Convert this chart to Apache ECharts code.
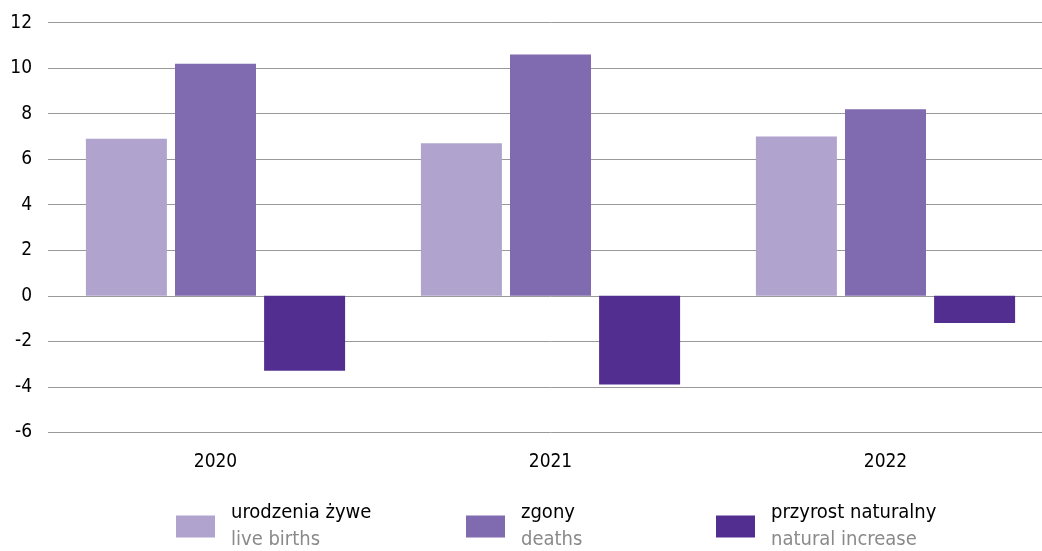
<!DOCTYPE html>
<html>
<head>
<meta charset="utf-8">
<script src="https://cdn.jsdelivr.net/npm/echarts@6/dist/echarts.min.js"></script>
<style>
html,body{margin:0;padding:0;background:#fff;overflow:hidden;width:1042px;height:551px;}
#c{width:1060px;height:551px;}
</style>
</head>
<body>
<div id="c"></div>
<script>
const categories = ['2020', '2021', '2022'];
const liveBirths = [6.9, 6.7, 7.0];
const deaths = [10.2, 10.6, 8.2];
const naturalIncrease = [-3.3, -3.9, -1.2];
const seriesNamesPl = ['urodzenia żywe', 'zgony', 'przyrost naturalny'];
const seriesNamesEn = ['live births', 'deaths', 'natural increase'];
const colors = ['#B0A4CF', '#806AB0', '#522E91'];

const FONT = '"Liberation Sans Narrow", "DejaVu Sans Condensed", "Roboto", sans-serif';
const chart = echarts.init(document.getElementById('c'));
const names = seriesNamesPl.map((p, i) => p + '|' + seriesNamesEn[i]);
const legendX = [171, 461, 711];

function mkLegend(i) {
  return {
    left: legendX[i], top: 498,
    data: [names[i]],
    icon: 'rect', itemWidth: 39, itemHeight: 22, itemGap: 16,
    selectedMode: false,
    formatter: n => { const [a, b] = n.split('|'); return '{a|' + a + '}\n{b|' + b + '}'; },
    textStyle: {
      fontFamily: FONT,
      rich: {
        a: { fontSize: 20, color: '#000', lineHeight: 27, fontFamily: FONT, padding: [0, 0, 0, 11] },
        b: { fontSize: 20, color: '#8a8a8a', lineHeight: 27, fontFamily: FONT, padding: [0, 0, 0, 11] }
      }
    }
  };
}

const dataSets = [liveBirths, deaths, naturalIncrease];
chart.setOption({
  animation: false,
  color: colors,
  grid: { left: 48, top: 22.7, width: 1005, height: 409.6, containLabel: false },
  legend: [mkLegend(0), mkLegend(1), mkLegend(2)],
  xAxis: {
    type: 'category', data: categories,
    axisLine: { show: false }, axisTick: { show: false },
    axisLabel: { color: '#000', fontSize: 19, fontFamily: FONT, margin: 20 }
  },
  yAxis: {
    type: 'value', min: -6, max: 12, interval: 2,
    axisLine: { show: false }, axisTick: { show: false },
    axisLabel: { color: '#000', fontSize: 19, fontFamily: FONT, margin: 16 },
    splitLine: { lineStyle: { color: '#999', width: 1 } }
  },
  series: dataSets.map((d, i) => ({
    name: names[i], type: 'bar', data: d,
    barWidth: 81, barGap: '10%',
    itemStyle: { color: colors[i] }
  }))
});
</script>
</body>
</html>
